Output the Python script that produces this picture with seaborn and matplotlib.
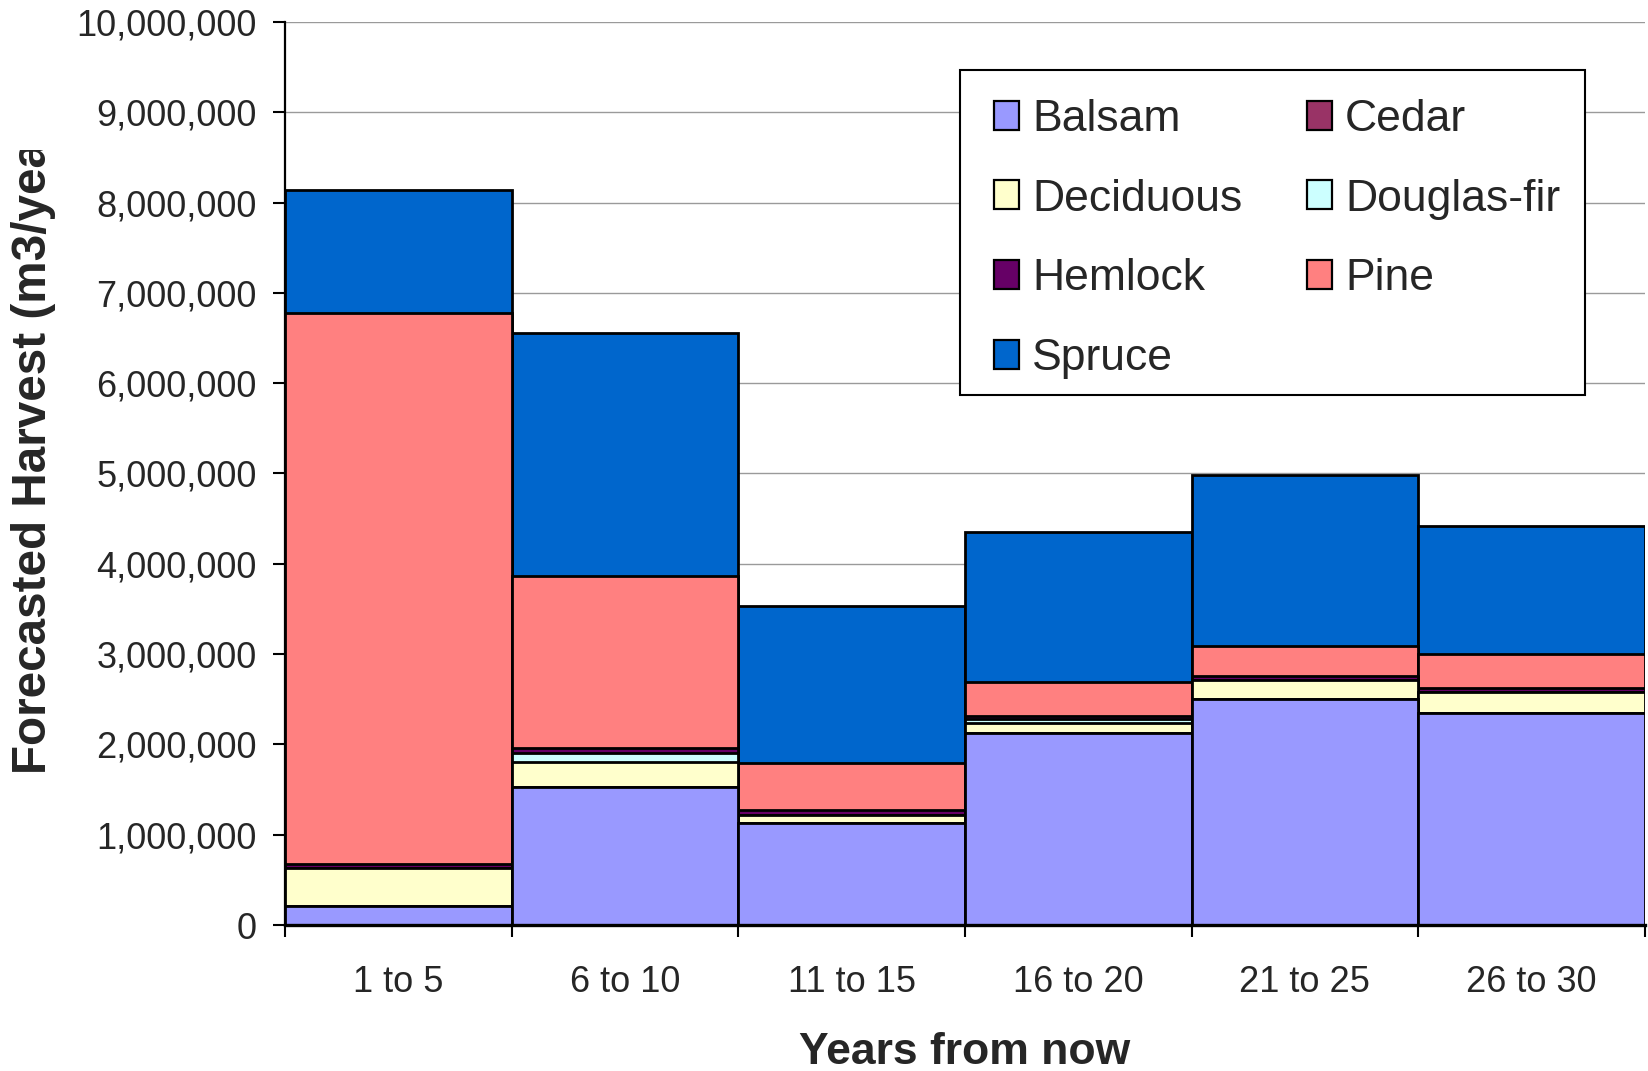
import numpy as np
import pandas as pd
import matplotlib
matplotlib.use("Agg")
import matplotlib.pyplot as plt
import seaborn as sns
from matplotlib.patches import Patch, Rectangle
from matplotlib.transforms import Bbox
from matplotlib.ticker import FuncFormatter, FixedLocator

# Harvest forecast by period and species (m3/year)
periods = ["1 to 5", "6 to 10", "11 to 15", "16 to 20", "21 to 25", "26 to 30"]
species = ["Balsam", "Cedar", "Deciduous", "Douglas-fir", "Hemlock", "Pine", "Spruce"]

balsam      = [210000, 1530000, 1130000, 2130000, 2500000, 2350000]
cedar       = [0, 0, 0, 0, 0, 0]
deciduous   = [420000, 280000, 90000, 110000, 210000, 230000]
douglas_fir = [0, 90000, 0, 40000, 0, 0]
hemlock     = [50000, 60000, 50000, 40000, 50000, 50000]
pine        = [6100000, 1900000, 520000, 370000, 330000, 370000]
spruce      = [1360000, 2700000, 1740000, 1660000, 1890000, 1420000]

colors = {
    "Balsam": "#9999FF",
    "Cedar": "#993366",
    "Deciduous": "#FFFFCC",
    "Douglas-fir": "#CCFFFF",
    "Hemlock": "#660066",
    "Pine": "#FF8080",
    "Spruce": "#0066CC",
}

df = pd.DataFrame({
    "period": periods,
    "Balsam": balsam,
    "Cedar": cedar,
    "Deciduous": deciduous,
    "Douglas-fir": douglas_fir,
    "Hemlock": hemlock,
    "Pine": pine,
    "Spruce": spruce,
})
cum = df[species].cumsum(axis=1)
cum["period"] = df["period"]

sns.set_theme(style="white")
plt.rcParams["font.family"] = ["Liberation Sans", "DejaVu Sans"]

W, H = 1648, 1071
fig, ax = plt.subplots(figsize=(W / 100, H / 100), dpi=100)
fig.subplots_adjust(left=0.173, right=0.998, top=0.9795, bottom=0.1363)

# stacked bars: draw cumulative totals from the top layer down
for sp in reversed(species):
    sns.barplot(data=cum, x="period", y=sp, order=periods, color=colors[sp],
                saturation=1, width=1.0, edgecolor="black", linewidth=2.0,
                errorbar=None, ax=ax, zorder=3)

ax.set_xlim(-0.5, 5.5)
ax.set_ylim(0, 10000000)
ax.yaxis.set_major_locator(FixedLocator(np.arange(0, 10000001, 1000000)))
ax.yaxis.set_major_formatter(FuncFormatter(lambda v, p: f"{int(v):,}"))
ax.grid(axis="y", color="#9a9a9a", linewidth=1.0)
ax.grid(axis="x", visible=False)
ax.set_axisbelow(True)

for s in ["top", "right"]:
    ax.spines[s].set_visible(False)
ax.spines["left"].set_color("black")
ax.spines["left"].set_linewidth(1.6)
ax.spines["bottom"].set_color("black")
ax.spines["bottom"].set_linewidth(2.4)
ax.spines["bottom"].set_zorder(5)

ax.tick_params(axis="y", which="major", direction="out", length=8.5, width=1.5,
               color="black", labelsize=26, pad=12, left=True)
ax.xaxis.set_minor_locator(FixedLocator(np.arange(-0.5, 6.0, 1.0)))
ax.tick_params(axis="x", which="minor", direction="out", length=8.5, width=1.5,
               color="black", bottom=True)
ax.tick_params(axis="x", which="major", length=0, labelsize=26, pad=29)
ax.set_xticks(range(len(periods)))
ax.set_xticklabels(periods)

ax.set_xlabel("Years from now", fontsize=32, fontweight="bold")
ax.xaxis.set_label_coords(0.5, -0.118)

# y label runs past the top of the figure area and is cut off there
ylab = fig.text(0.0, 0.0, "Forecasted Harvest (m3/year)", fontsize=34.3,
                fontweight="bold", rotation=90, ha="center", va="center")
ylab.set_position((34 / W, 1 - 440 / H))
ylab.set_clip_box(Bbox([[0, 0], [W, H - 150]]))
ylab.set_clip_on(True)
ax.set_ylabel("")

# legend box and entries laid out row by row in two columns
def to_axes(px, py):
    x0, x1 = 285, 1645
    y0, y1 = 925, 22
    return (px - x0) / (x1 - x0), (y0 - py) / (y0 - y1)

bx0, by0 = to_axes(960, 395)
bx1, by1 = to_axes(1585, 70)
ax.add_patch(Rectangle((bx0, by0), bx1 - bx0, by1 - by0, transform=ax.transAxes,
                       facecolor="white", edgecolor="black", linewidth=1.5,
                       zorder=9, clip_on=False))

order = ["Balsam", "Deciduous", "Hemlock", "Spruce", "Cedar", "Douglas-fir", "Pine"]
handles = [Patch(facecolor=colors[s], edgecolor="black", linewidth=1.6, label=s) for s in order]
ax_x, ax_y = to_axes(965, 70)
leg = ax.legend(handles=handles, ncol=2, loc="upper left",
                bbox_to_anchor=(ax_x, ax_y), fontsize=32,
                frameon=False,
                handlelength=0.56, handleheight=0.62, handletextpad=0.30,
                columnspacing=1.45, labelspacing=0.87, borderpad=0.65,
                borderaxespad=0)
leg.set_zorder(10)

fig.savefig("out.png", dpi=100)
